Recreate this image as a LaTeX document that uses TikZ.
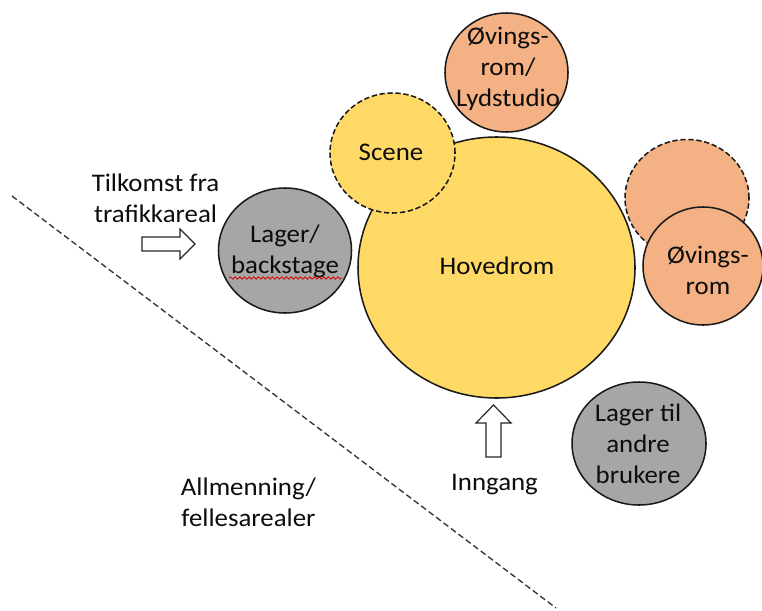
\documentclass[tikz,border=0pt]{standalone}
\usepackage{fontspec}
\setmainfont{Carlito}[FakeStretch=1.06]
\usetikzlibrary{shapes.geometric,decorations.pathmorphing}
\definecolor{gold}{HTML}{FFD966}
\definecolor{peach}{HTML}{F4B183}
\definecolor{grayfill}{HTML}{A6A6A6}
\definecolor{edge}{HTML}{1A1A1A}
\definecolor{inkc}{HTML}{0D0D0D}
\begin{document}
\begin{tikzpicture}[x=0.75pt,y=-0.75pt,
  room/.style={ellipse, draw=edge, line width=1.15pt, inner sep=0pt},
  dashedroom/.style={room, dash pattern=on 4pt off 2pt},
  lbl/.style={align=center, font=\fontsize{19}{23.2}\selectfont, text=inkc, inner sep=0pt},
  blockarrow/.style={draw=black!85, line width=0.9pt, fill=white, line join=miter},
  divider/.style={draw=black!80, line width=1pt, dash pattern=on 4.5pt off 2.5pt}
]
\useasboundingbox (0,0) rectangle (762,610);
\fill[white] (0,0) rectangle (762,610);

% divider line
\coordinate (d1) at (12,196);
\coordinate (d2) at (556,608);
\draw[divider] (d1) -- (d2);

% rooms
\node[room, fill=gold, minimum width=207.75pt, minimum height=195.75pt] (hoved) at (496.5,267.5) {};
\node[dashedroom, fill=gold, minimum width=93.75pt, minimum height=90pt] (scene) at (392.5,153) {};
\node[room, fill=peach, minimum width=92.25pt, minimum height=89.25pt] (lyd) at (506.5,72.5) {};
\node[dashedroom, fill=peach, minimum width=93pt, minimum height=87.75pt] (ovx) at (687,198) {};
\node[room, fill=peach, minimum width=90pt, minimum height=88.5pt] (ov) at (703,266) {};
\node[room, fill=grayfill, minimum width=99.75pt, minimum height=93.75pt] (lagerb) at (285,250.5) {};
\node[room, fill=grayfill, minimum width=100.5pt, minimum height=92.25pt] (lagera) at (639,443.5) {};

% block arrows
\draw[blockarrow] (142,237) -- (180,237) -- (180,229) -- (195,244) -- (180,259) -- (180,251) -- (142,251) -- cycle;
\draw[blockarrow] (486,457) -- (486,423) -- (476,423) -- (493.5,405) -- (511,423) -- (501,423) -- (501,457) -- cycle;

% labels
\node[lbl] (thoved) at (497,266) {Hovedrom};
\node[lbl] (tscene) at (391,152) {Scene};
\node[lbl] (tlyd) at (508,69) {Øvings-\\rom/\\Lydstudio};
\node[lbl] (tov) at (708,270) {Øvings-\\rom};
\node[lbl] (tlagerb) at (285,251) {Lager/\\backstage};
\node[lbl] (tlagera) at (638,444) {Lager til\\andre\\brukere};
\node[lbl] (ttilk) at (155.5,198) {Tilkomst fra\\trafikkareal};
\node[lbl] (tinng) at (494.5,484.5) {Inngang};
\node[lbl] (tallm) at (248.5,502.5) {Allmenning/\\fellesarealer};

% spell-check squiggle
\coordinate (s1) at (229,278);
\coordinate (s2) at (342,278);
\draw[red!85!black, line width=0.6pt, decorate, decoration={snake, amplitude=0.9pt, segment length=3.5pt}] (s1) -- (s2);
\end{tikzpicture}
\end{document}
